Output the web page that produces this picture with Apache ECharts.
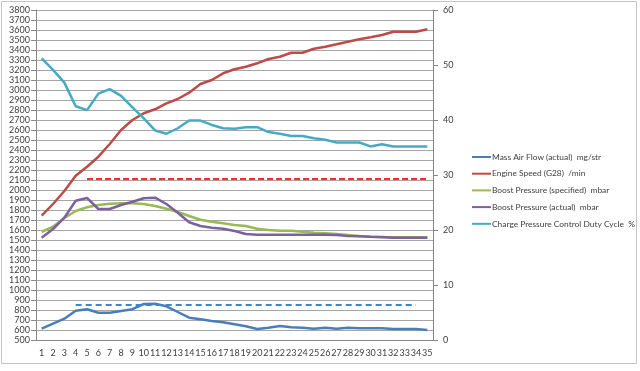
<!DOCTYPE html>
<html><head><meta charset="utf-8">
<script src="https://cdn.jsdelivr.net/npm/echarts@6/dist/echarts.min.js"></script>
<style>html,body{margin:0;padding:0;background:#fff}#c{width:640px;height:371px}</style>
</head><body><div id="c"></div>
<script>
const categories = ['1','2','3','4','5','6','7','8','9','10','11','12','13','14','15','16','17','18','19','20','21','22','23','24','25','26','27','28','29','30','31','32','33','34','35'];
const massAirFlow = [613,663,713,793,807,773,772,790,808,860,863,837,780,723,707,690,677,657,637,610,623,640,627,623,613,623,613,623,617,617,617,610,610,610,600];
const engineSpeed = [1743,1860,1990,2143,2233,2333,2460,2600,2700,2767,2807,2867,2910,2973,3060,3100,3167,3207,3233,3267,3310,3333,3373,3373,3413,3433,3457,3483,3507,3527,3550,3583,3583,3583,3607];
const boostSpecified = [1580,1633,1720,1790,1827,1850,1863,1867,1867,1860,1840,1813,1780,1740,1703,1683,1667,1650,1640,1613,1600,1593,1593,1583,1573,1567,1560,1550,1540,1533,1527,1527,1527,1527,1527];
const boostActual = [1523,1610,1723,1893,1920,1810,1810,1850,1883,1917,1923,1860,1773,1677,1640,1623,1613,1590,1560,1553,1553,1553,1553,1553,1553,1553,1550,1540,1537,1533,1530,1523,1523,1523,1523];
const dutyCycle = [51.2,49.1,46.8,42.5,41.8,44.8,45.6,44.4,42.3,40.3,38.1,37.5,38.5,39.9,39.9,39.1,38.5,38.4,38.7,38.7,37.8,37.5,37.1,37.1,36.7,36.4,35.9,35.9,35.9,35.2,35.6,35.2,35.2,35.2,35.2];
const speedLimit = [null,null,null,null,2110,2110,2110,2110,2110,2110,2110,2110,2110,2110,2110,2110,2110,2110,2110,2110,2110,2110,2110,2110,2110,2110,2110,2110,2110,2110,2110,2110,2110,2110,2110];
const airFlowLimit = [null,null,null,850,850,850,850,850,850,850,850,850,850,850,850,850,850,850,850,850,850,850,850,850,850,850,850,850,850,850,850,850,850,850,null];
const seriesNames = ['Mass Air Flow (actual)  mg/str','Engine Speed (G28)  /min','Boost Pressure (specified)  mbar','Boost Pressure (actual)  mbar','Charge Pressure Control Duty Cycle  %'];
const colors = ['#4A7EBB','#BE4B48','#98B954','#7D60A0','#46AAC5'];

const font = 'Lato, "Open Sans", sans-serif';
const chart = echarts.init(document.getElementById('c'), null, {renderer:'canvas'});
function line(name, data, color, yIdx, extra) {
  return Object.assign({
    name, type:'line', data, yAxisIndex:yIdx, symbol:'none', smooth:false,
    lineStyle:{color, width:2.5}, itemStyle:{color}, animation:false, z:3
  }, extra||{});
}
chart.setOption({
  animation:false,
  backgroundColor:'#fff',
  graphic:[{type:'rect', shape:{x:1.5,y:1.5,width:635,height:362}, style:{fill:null, stroke:'#c4c4c4', lineWidth:1}, z:-1}],
  grid:{left:36, right:207, top:10, bottom:31},
  legend:{
    data:seriesNames, orient:'vertical', left:467, top:146, itemGap:4.7,
    itemWidth:19, itemHeight:2, icon:'rect',
    textStyle:{fontFamily:font, fontSize:8.4, color:'#404040', lineHeight:12, padding:[0,0,0,-4]}
  },
  xAxis:{
    type:'category', data:categories, boundaryGap:true,
    axisLine:{lineStyle:{color:'#868686'}},
    axisTick:{interval:0, length:4, lineStyle:{color:'#868686'}},
    axisLabel:{interval:0, fontFamily:font, fontSize:9, color:'#404040', margin:9}
  },
  yAxis:[{
    type:'value', min:500, max:3800, interval:100, position:'left',
    axisLine:{show:true, lineStyle:{color:'#868686'}},
    axisTick:{show:true, length:5, lineStyle:{color:'#868686'}},
    axisLabel:{fontFamily:font, fontSize:9, color:'#404040', margin:6, formatter:v => String(v)},
    splitLine:{show:true, lineStyle:{color:'#a6a6a6', width:1}}
  },{
    type:'value', min:0, max:60, interval:10, position:'right',
    axisLine:{show:true, lineStyle:{color:'#868686'}},
    axisTick:{show:true, length:5, lineStyle:{color:'#868686'}},
    axisLabel:{fontFamily:font, fontSize:9, color:'#404040', margin:10},
    splitLine:{show:false}
  }],
  series:[
    line(seriesNames[0], massAirFlow, colors[0], 0),
    line(seriesNames[1], engineSpeed, colors[1], 0),
    line(seriesNames[2], boostSpecified, colors[2], 0),
    line(seriesNames[3], boostActual, colors[3], 0),
    line(seriesNames[4], dutyCycle, colors[4], 1),
    line('speedLimit', speedLimit, '#FF2A2A', 0, {lineStyle:{color:'#FF2A2A', width:2.2, type:[6,3]}}),
    line('airFlowLimit', airFlowLimit, '#3A86CF', 0, {lineStyle:{color:'#3A86CF', width:2.2, type:[6,4]}})
  ]
});
</script></body></html>
